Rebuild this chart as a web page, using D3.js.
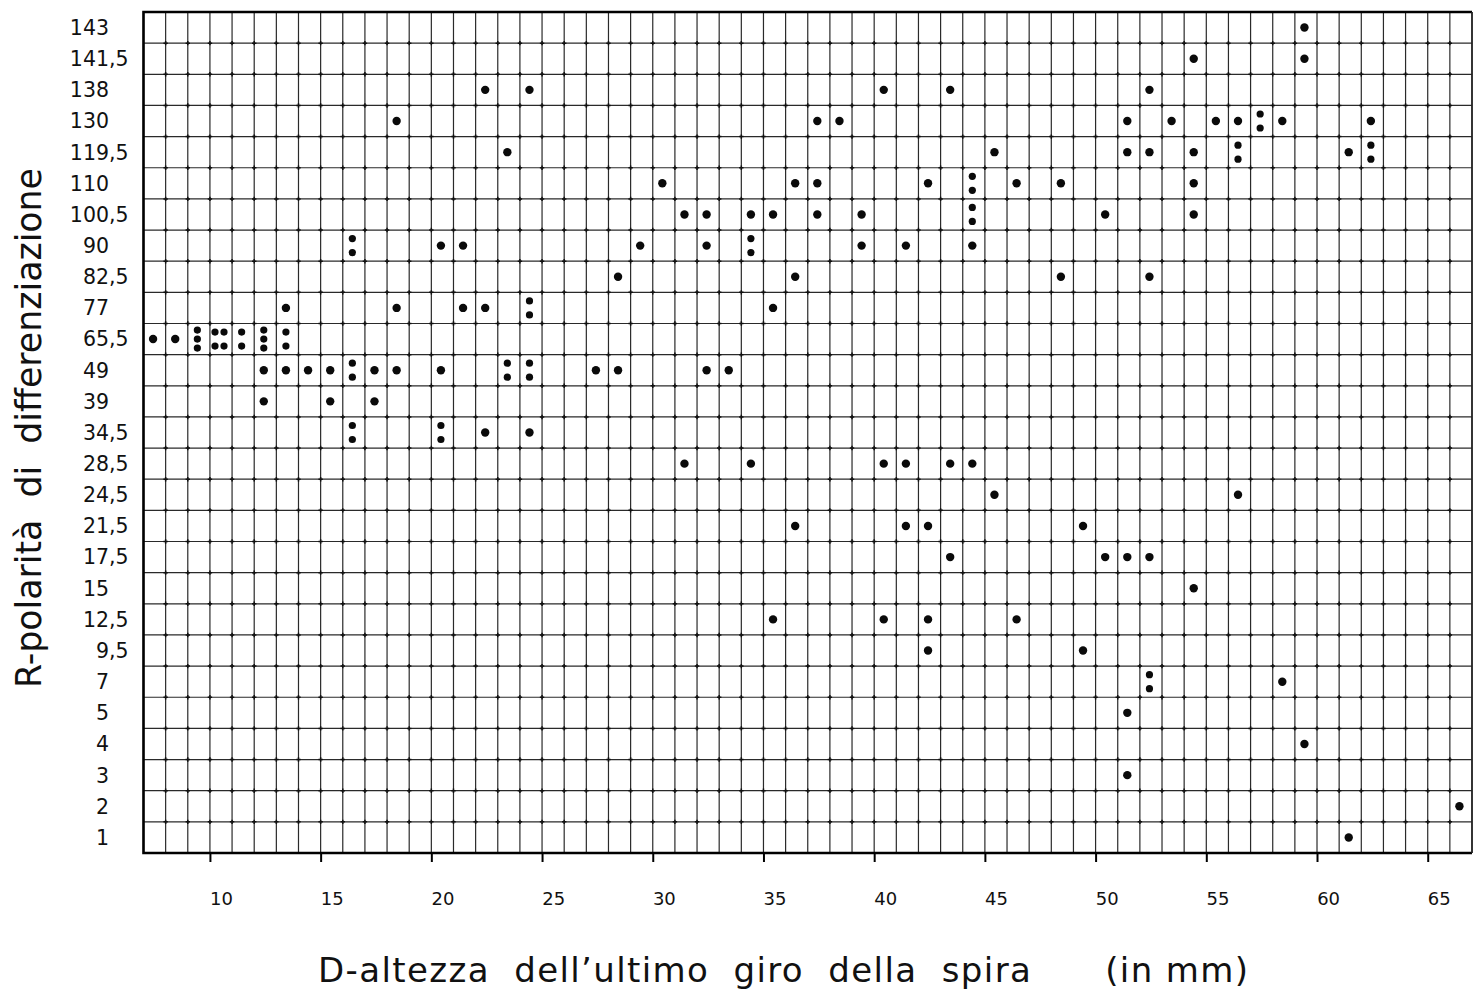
<!DOCTYPE html>
<html>
<head>
<meta charset="utf-8">
<script src="https://cdn.jsdelivr.net/npm/d3@7"></script>
<style>
body{margin:0;background:#fff}
svg{display:block;font-family:'DejaVu Sans',sans-serif;fill:#111}
</style>
</head>
<body>
<div id="graph"></div>
<script>
// R classes, bottom to top (as printed on the axis)
var rClasses = ['1','2','3','4','5','7','9,5','12,5','15','17,5','21,5','24,5','28,5','34,5','39','49','65,5','77','82,5','90','100,5','110','119,5','130','138','141,5','143']

var xTicks = [10, 15, 20, 25, 30, 35, 40, 45, 50, 55, 60, 65]

// one entry per specimen: [D in mm, R class]
var specimens = [
	[59,'143'],
	[54,'141,5'], [59,'141,5'],
	[22,'138'], [24,'138'], [40,'138'], [43,'138'], [52,'138'],
	[18,'130'], [37,'130'], [38,'130'], [51,'130'], [53,'130'], [55,'130'], [56,'130'], [57,'130'], [57,'130'], [58,'130'], [62,'130'],
	[23,'119,5'], [45,'119,5'], [51,'119,5'], [52,'119,5'], [54,'119,5'], [56,'119,5'], [56,'119,5'], [61,'119,5'], [62,'119,5'], [62,'119,5'],
	[30,'110'], [36,'110'], [37,'110'], [42,'110'], [44,'110'], [44,'110'], [46,'110'], [48,'110'], [54,'110'],
	[31,'100,5'], [32,'100,5'], [34,'100,5'], [35,'100,5'], [37,'100,5'], [39,'100,5'], [44,'100,5'], [44,'100,5'], [50,'100,5'], [54,'100,5'],
	[16,'90'], [16,'90'], [20,'90'], [21,'90'], [29,'90'], [32,'90'], [34,'90'], [34,'90'], [39,'90'], [41,'90'], [44,'90'],
	[28,'82,5'], [36,'82,5'], [48,'82,5'], [52,'82,5'],
	[13,'77'], [18,'77'], [21,'77'], [22,'77'], [24,'77'], [24,'77'], [35,'77'],
	[7,'65,5'], [8,'65,5'], [9,'65,5'], [9,'65,5'], [9,'65,5'], [10,'65,5'], [10,'65,5'], [10,'65,5'], [10,'65,5'],
	[11,'65,5'], [11,'65,5'], [12,'65,5'], [12,'65,5'], [12,'65,5'], [13,'65,5'], [13,'65,5'],
	[12,'49'], [13,'49'], [14,'49'], [15,'49'], [16,'49'], [16,'49'], [17,'49'], [18,'49'], [20,'49'],
	[23,'49'], [23,'49'], [24,'49'], [24,'49'], [27,'49'], [28,'49'], [32,'49'], [33,'49'],
	[12,'39'], [15,'39'], [17,'39'],
	[16,'34,5'], [16,'34,5'], [20,'34,5'], [20,'34,5'], [22,'34,5'], [24,'34,5'],
	[31,'28,5'], [34,'28,5'], [40,'28,5'], [41,'28,5'], [43,'28,5'], [44,'28,5'],
	[45,'24,5'], [56,'24,5'],
	[36,'21,5'], [41,'21,5'], [42,'21,5'], [49,'21,5'],
	[43,'17,5'], [50,'17,5'], [51,'17,5'], [52,'17,5'],
	[54,'15'],
	[35,'12,5'], [40,'12,5'], [42,'12,5'], [46,'12,5'],
	[42,'9,5'], [49,'9,5'],
	[52,'7'], [52,'7'], [58,'7'],
	[51,'5'],
	[59,'4'],
	[51,'3'],
	[66,'2'],
	[61,'1']
]

var width = 1484, height = 991

var svg = d3.select('#graph').append('svg')
	.attr('width', width)
	.attr('height', height)

var x = d3.scaleLinear().domain([7, 67]).range([143.5, 1472])
var y = d3.scaleBand().domain(rClasses.slice().reverse()).range([12, 853])

// note: 'top' is taken by window.top, so plain names here
var yTop = y.range()[0], yBot = y.range()[1]
var xLeft = x.range()[0], xRight = x.range()[1]

// graph paper
var colVals = d3.range(7, 68)
var rowEdges = y.domain().map(d => y(d)).concat([yBot])

var grid = svg.append('g').attr('stroke', '#2a2a2a').attr('stroke-width', 1.2)

grid.selectAll('line.v').data(colVals).join('line')
	.attr('class', 'v')
	.attr('x1', d => x(d)).attr('x2', d => x(d))
	.attr('y1', yTop).attr('y2', yBot)

grid.selectAll('line.h').data(rowEdges).join('line')
	.attr('class', 'h')
	.attr('x1', xLeft).attr('x2', xRight)
	.attr('y1', d => d).attr('y2', d => d)

// little crosses where the printed lines meet (inside the frame only)
var crossings = d3.cross(colVals.slice(1, -1), rowEdges.slice(1, -1))
var cs = 2.2
svg.append('path')
	.attr('stroke', '#111')
	.attr('stroke-width', 1.5)
	.attr('fill', 'none')
	.attr('d', crossings.map(([v, e]) =>
		'M' + [x(v) - cs, e] + 'H' + (x(v) + cs) + 'M' + [x(v), e - cs] + 'V' + (e + cs)).join(''))

// frame
svg.append('path')
	.attr('fill', 'none')
	.attr('stroke', '#000')
	.attr('stroke-width', 2.6)
	.attr('d', 'M' + [xRight, yTop] + 'H' + xLeft + 'V' + yBot + 'H' + xRight)
svg.append('line')
	.attr('x1', xRight).attr('x2', xRight)
	.attr('y1', yTop).attr('y2', yBot)
	.attr('stroke', '#222').attr('stroke-width', 1.6)

// x axis
var half = x(0.5) - x(0)
var xAxis = svg.append('g')
	.attr('transform', 'translate(0,' + yBot + ')')
	.call(d3.axisBottom(x).tickValues(xTicks).tickSize(9).tickSizeOuter(0))

xAxis.select('.domain').remove()
xAxis.selectAll('.tick line').attr('stroke', '#000').attr('stroke-width', 2)
xAxis.selectAll('.tick text')
	.attr('fill', '#111')
	.attr('font-family', 'DejaVu Sans')
	.attr('font-size', 18)
	.attr('y', 39)
	.attr('dx', half)

// y labels, lined up on the decimal comma
var yLab = svg.append('g')
	.attr('font-size', 20.5)
	.selectAll('g').data(rClasses).join('g')
	.attr('transform', d => 'translate(109,' + (y(d) + y.bandwidth()/2) + ')')

yLab.append('text')
	.attr('text-anchor', 'end')
	.attr('dy', '0.36em')
	.text(d => d.split(',')[0])

yLab.filter(d => d.includes(',')).append('text')
	.attr('dy', '0.36em')
	.text(d => ',' + d.split(',')[1])

// specimens, several in one cell are stacked
var offsets = {
	1: [[0, 0]],
	2: [[0, -7], [0, 7]],
	3: [[0, -9], [0, 0], [0, 9]],
	4: [[-4.5, -7], [4.5, -7], [-4.5, 7], [4.5, 7]]
}

var cells = Array.from(d3.group(specimens, d => d[0] + '|' + d[1]).values())
var dots = []
cells.forEach(list => {
	var d = list[0][0], r = list[0][1]
	var cx = x(d + 0.5) - 1.5
	var cy = y(r) + y.bandwidth()/2
	offsets[list.length].forEach(o => {
		dots.push({cx: cx + o[0], cy: cy + o[1], r: list.length == 1 ? 4.2 : 3.6})
	})
})

svg.append('g').selectAll('circle').data(dots).join('circle')
	.attr('cx', d => d.cx)
	.attr('cy', d => d.cy)
	.attr('r', d => d.r)
	.attr('fill', '#0a0a0a')

// axis titles
svg.append('text')
	.attr('x', 318)
	.attr('y', 982)
	.attr('font-size', 34)
	.attr('textLength', 930)
	.attr('lengthAdjust', 'spacing')
	.style('white-space', 'pre')
	.text('D-altezza  dell\u2019ultimo  giro  della  spira      (in mm)')

svg.append('text')
	.attr('transform', 'translate(41,688) rotate(-90)')
	.attr('font-size', 36)
	.attr('textLength', 520)
	.attr('lengthAdjust', 'spacingAndGlyphs')
	.style('white-space', 'pre')
	.text('R-polarit\u00e0  di  differenziazione')
</script>
</body>
</html>
